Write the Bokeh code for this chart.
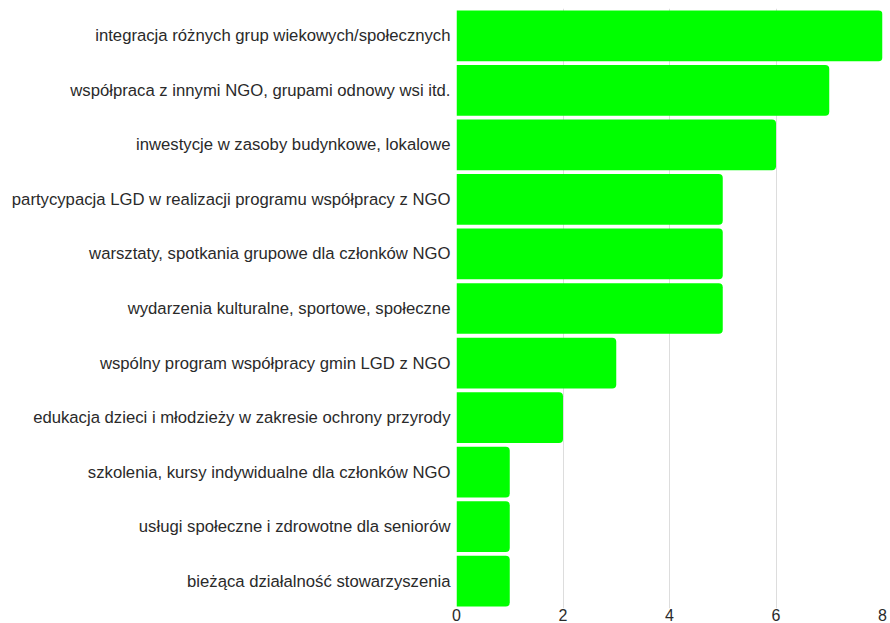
from bokeh.plotting import figure
from bokeh.models import FactorRange, Range1d, FixedTicker
from bokeh.embed import file_html
from bokeh.resources import INLINE

categories = [
    "integracja różnych grup wiekowych/społecznych",
    "współpraca z innymi NGO, grupami odnowy wsi itd.",
    "inwestycje w zasoby budynkowe, lokalowe",
    "partycypacja LGD w realizacji programu współpracy z NGO",
    "warsztaty, spotkania grupowe dla członków NGO",
    "wydarzenia kulturalne, sportowe, społeczne",
    "wspólny program współpracy gmin LGD z NGO",
    "edukacja dzieci i młodzieży w zakresie ochrony przyrody",
    "szkolenia, kursy indywidualne dla członków NGO",
    "usługi społeczne i zdrowotne dla seniorów",
    "bieżąca działalność stowarzyszenia",
]
values = [8, 7, 6, 5, 5, 5, 3, 2, 1, 1, 1]
x_ticks = [0, 2, 4, 6, 8]

p = figure(width=890, height=623, output_backend="svg", toolbar_location=None,
           y_range=FactorRange(factors=categories[::-1], range_padding=0),
           x_range=Range1d(0, 8),
           min_border_left=456, min_border_right=8, min_border_top=8, min_border_bottom=15)
p.outline_line_color = None
p.hbar(y=categories, right=values, left=0, height=0.93, fill_color="#00ff00",
       line_color=None, border_radius=(0, 4, 4, 0))

p.xaxis.ticker = FixedTicker(ticks=x_ticks)
p.xgrid.ticker = FixedTicker(ticks=x_ticks)
p.xgrid.grid_line_color = "#dddddd"
p.ygrid.grid_line_color = None
for ax in (p.xaxis[0], p.yaxis[0]):
    ax.axis_line_color = None
    ax.major_tick_line_color = None
    ax.minor_tick_line_color = None
    ax.major_tick_out = 0
    ax.major_label_text_font = "Liberation Sans"
    ax.major_label_text_color = "#2a2a2a"
p.yaxis.major_label_text_font_size = "16.7px"
p.yaxis.major_label_standoff = 6
p.xaxis.major_label_text_font_size = "16px"
p.xaxis.major_label_standoff = 0

open("out.html", "w").write(file_html(p, INLINE))
